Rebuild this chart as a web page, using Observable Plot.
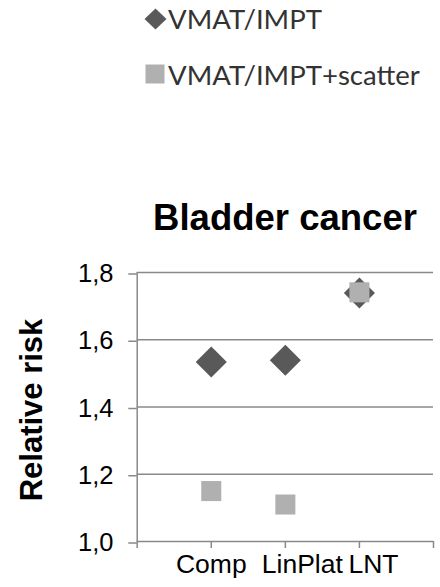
<!DOCTYPE html>
<html>
<head>
<meta charset="utf-8">
<script src="https://cdn.jsdelivr.net/npm/d3@7"></script>
<script src="https://cdn.jsdelivr.net/npm/@observablehq/plot@0.6"></script>
<style>
  html, body { margin: 0; padding: 0; background: #fff; }
  body { width: 440px; height: 587px; position: relative; overflow: hidden; font-family: "Liberation Sans", Arial, sans-serif; }
  .legend-row { position: absolute; left: 144px; display: flex; align-items: center; font-family: Lato, "Open Sans", sans-serif; color: #333; white-space: nowrap; }
  .legend-row svg { flex: none; }
  #title { position: absolute; left: 285px; transform: translateX(-50%); font-weight: bold; white-space: nowrap; color: #000; }
  #ylabel { position: absolute; left: 31px; top: 410px; transform: translate(-50%, -50%) rotate(-90deg); font-weight: bold; font-size: 31px; line-height: 31px; white-space: nowrap; color: #000; }
  #chart { position: absolute; left: 0; top: 255px; }
</style>
</head>
<body>
<div id="legend"></div>
<div id="title">Bladder cancer</div>
<div id="ylabel">Relative risk</div>
<div id="chart"></div>
<script>
// ---- data ----
const categories = ["Comp", "LinPlat", "LNT"];
const vmatImpt = [1.534, 1.539, 1.739];
const vmatImptScatter = [1.15, 1.11, 1.741];
const seriesNames = ["VMAT/IMPT", "VMAT/IMPT+scatter"];
const yTicks = [1.0, 1.2, 1.4, 1.6, 1.8];
const xAxisTicks = [0, 1, 2, 3, 4];

// ---- styles ----
const colors = ["#595959", "#b0b0b0"];
const labelDx = [0, 17, 14];
const gridColor = "#898989";

const ctx = document.createElement("canvas").getContext("2d");
function fitSize(text, weight, family, target, fallback) {
  ctx.font = weight + " 100px " + family;
  const w = ctx.measureText(text).width;
  const s = 100 * target / w;
  return (isFinite(s) && s > 8 && s < 60) ? s : fallback;
}

// ---- title ----
const titleEl = document.getElementById("title");
const titleSize = fitSize("Bladder cancer", "bold", "'Liberation Sans', Arial, sans-serif", 264, 36.5);
titleEl.style.fontSize = titleSize + "px";
titleEl.style.lineHeight = titleSize + "px";
titleEl.style.top = (230.5 - (titleSize - 1.117 * titleSize) / 2 - 0.905 * titleSize) + "px";

// ---- legend ----
const legend = document.getElementById("legend");
const legendCenters = [18.8, 74];
const legendSize = fitSize(seriesNames[0], "normal", "Lato, 'Open Sans', sans-serif", 154, 27);
seriesNames.forEach((name, i) => {
  const row = document.createElement("div");
  row.className = "legend-row";
  row.style.top = (legendCenters[i] - 15) + "px";
  row.style.height = "30px";
  row.style.fontSize = legendSize + "px";
  const icon = i === 0
    ? `<svg width="24" height="22" viewBox="0 0 24 22"><path d="M11.5 0.5 L22.5 11 L11.5 21.5 L0.5 11 Z" fill="${colors[0]}"/></svg>`
    : `<svg width="24" height="22" viewBox="0 0 24 22"><rect x="1.5" y="1.5" width="19" height="19" fill="${colors[1]}"/></svg>`;
  row.innerHTML = icon + `<span>${name}</span>`;
  legend.appendChild(row);
});

// ---- chart ----
const rows1 = categories.map((c, i) => ({idx: i + 1, cat: c, value: vmatImpt[i]}));
const rows2 = categories.map((c, i) => ({idx: i + 1, cat: c, value: vmatImptScatter[i]}));
const fmt = d => d3.format(".1f")(d).replace(".", ",");

const chart = Plot.plot({
  width: 440,
  height: 332,
  marginLeft: 136.7,
  marginRight: 7,
  marginTop: 17,
  marginBottom: 46,
  style: {fontFamily: "'Liberation Sans', Arial, sans-serif", fontSize: "25.5px", color: "#000", background: "transparent", overflow: "visible"},
  x: {domain: [0, 4], axis: null},
  y: {domain: [1.0, 1.8], axis: null},
  marks: [
    Plot.ruleY(yTicks.slice(1), {stroke: gridColor, strokeWidth: 1.5}),
    Plot.axisY({ticks: yTicks, tickFormat: fmt, tickSize: 8.4, tickPadding: 15.3, stroke: gridColor, strokeWidth: 1.5, label: null, fontSize: 25.5, dy: 1.5}),
    Plot.axisX({ticks: xAxisTicks, tickSize: 7, tickFormat: () => "", stroke: gridColor, strokeWidth: 1.5, label: null}),
    Plot.ruleY([1.0], {stroke: gridColor, strokeWidth: 1.5}),
    Plot.ruleX([0], {stroke: gridColor, strokeWidth: 1.5}),
    ...categories.map((c, i) => Plot.text([rows1[i]], {x: "idx", text: "cat", frameAnchor: "bottom", dy: 31.5, dx: labelDx[i], fontSize: 26.5, fill: "#000"})),
    Plot.dot(rows1, {x: "idx", y: "value", symbol: "diamond2", r: 14, fill: colors[0], stroke: "none"}),
    Plot.dot(rows2, {x: "idx", y: "value", symbol: "square", r: 11.3, fill: colors[1], stroke: "none"})
  ]
});
document.getElementById("chart").appendChild(chart);
</script>
</body>
</html>
